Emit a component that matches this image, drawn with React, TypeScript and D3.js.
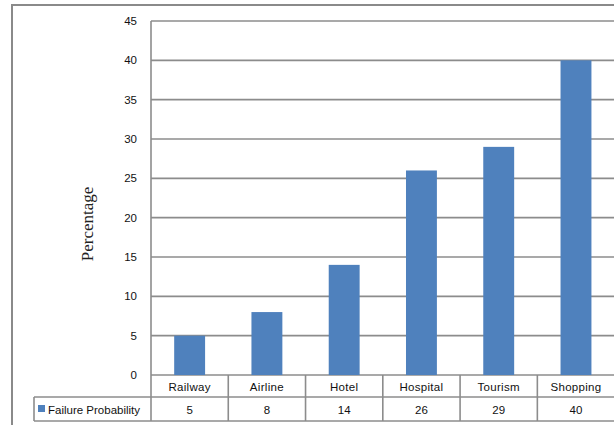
import React, { useEffect, useRef } from "react";
import * as d3 from "d3";

const categories = ["Railway", "Airline", "Hotel", "Hospital", "Tourism", "Shopping"];
const failureProbability = [5, 8, 14, 26, 29, 40];
const yTicks = [0, 5, 10, 15, 20, 25, 30, 35, 40, 45];
const seriesName = "Failure Probability";
const yTitle = "Percentage";

const W = 614;
const H = 425;
const GRID = "#8c8c8c";
const BAR = "#4f81bd";

export default function App() {
  const ref = useRef<SVGSVGElement>(null);

  useEffect(() => {
    const svg = d3.select(ref.current);
    svg.selectAll("*").remove();

    const left = 151;
    const right = left + 77.27 * 6;
    const top = 21;
    const bottom = 375;
    const row1 = 397;
    const row2 = 421;

    const x = d3.scaleBand<string>().domain(categories).range([left, right]).paddingInner(0.6).paddingOuter(0.3);
    const band = d3.scaleBand<string>().domain(categories).range([left, right]);
    const y = d3.scaleLinear().domain([0, 45]).range([bottom, top]);

    // outer chart frame
    svg.append("rect")
      .attr("x", 12).attr("y", 5).attr("width", W).attr("height", H)
      .attr("fill", "white").attr("stroke", "#8a8a8a").attr("stroke-width", 2);

    // horizontal gridlines
    svg.append("g").selectAll("line").data(yTicks).join("line")
      .attr("x1", left).attr("x2", right + 2)
      .attr("y1", (d) => y(d)).attr("y2", (d) => y(d))
      .attr("stroke", GRID).attr("stroke-width", 1.6);

    const font = "Liberation Sans, Arial, sans-serif";

    // y tick labels
    svg.append("g").selectAll("text").data(yTicks).join("text")
      .attr("x", 137).attr("y", (d) => y(d) + 4)
      .attr("text-anchor", "end")
      .attr("font-family", font)
      .attr("font-size", 11.5).attr("fill", "#111")
      .text((d) => String(d));

    // bars
    svg.append("g").selectAll("rect").data(failureProbability).join("rect")
      .attr("x", (_, i) => x(categories[i])!)
      .attr("width", x.bandwidth())
      .attr("y", (d) => y(d))
      .attr("height", (d) => y(0) - y(d))
      .attr("fill", BAR);

    // data table grid
    const tbl = svg.append("g").attr("stroke", GRID).attr("stroke-width", 1.6);
    tbl.append("line").attr("x1", left).attr("x2", left).attr("y1", top).attr("y2", row2);
    tbl.append("line").attr("x1", 34).attr("x2", right + 2).attr("y1", row1).attr("y2", row1);
    tbl.append("line").attr("x1", 34).attr("x2", right + 2).attr("y1", row2).attr("y2", row2);
    tbl.append("line").attr("x1", 34).attr("x2", 34).attr("y1", row1).attr("y2", row2);
    categories.slice(1).forEach((c) => {
      tbl.append("line").attr("x1", band(c)!).attr("x2", band(c)!).attr("y1", bottom).attr("y2", row2);
    });

    // category row
    svg.append("g").selectAll("text").data(categories).join("text")
      .attr("x", (d) => band(d)! + band.bandwidth() / 2)
      .attr("y", 391)
      .attr("text-anchor", "middle")
      .attr("font-family", font).attr("font-size", 11.5).attr("fill", "#111")
      .attr("letter-spacing", 0.3)
      .text((d) => d);

    // value row
    svg.append("g").selectAll("text").data(failureProbability).join("text")
      .attr("x", (_, i) => band(categories[i])! + band.bandwidth() / 2)
      .attr("y", 414)
      .attr("text-anchor", "middle")
      .attr("font-family", font).attr("font-size", 11.5).attr("fill", "#111")
      .text((d) => String(d));

    // legend key in table
    svg.append("rect").attr("x", 38).attr("y", 405).attr("width", 7).attr("height", 7).attr("fill", BAR);
    svg.append("text").attr("x", 48).attr("y", 414)
      .attr("font-family", font).attr("font-size", 11.5).attr("fill", "#111")
      .text(seriesName);

    // y axis title
    svg.append("text")
      .attr("transform", `translate(93, 224) rotate(-90)`)
      .attr("text-anchor", "middle")
      .attr("font-family", "Liberation Serif, Times New Roman, serif")
      .attr("font-size", 17).attr("fill", "#222")
      .text(yTitle);
  }, []);

  return (
    <svg
      ref={ref}
      width={W}
      height={H}
      style={{ position: "fixed", left: 0, top: 0, background: "white" }}
    />
  );
}
